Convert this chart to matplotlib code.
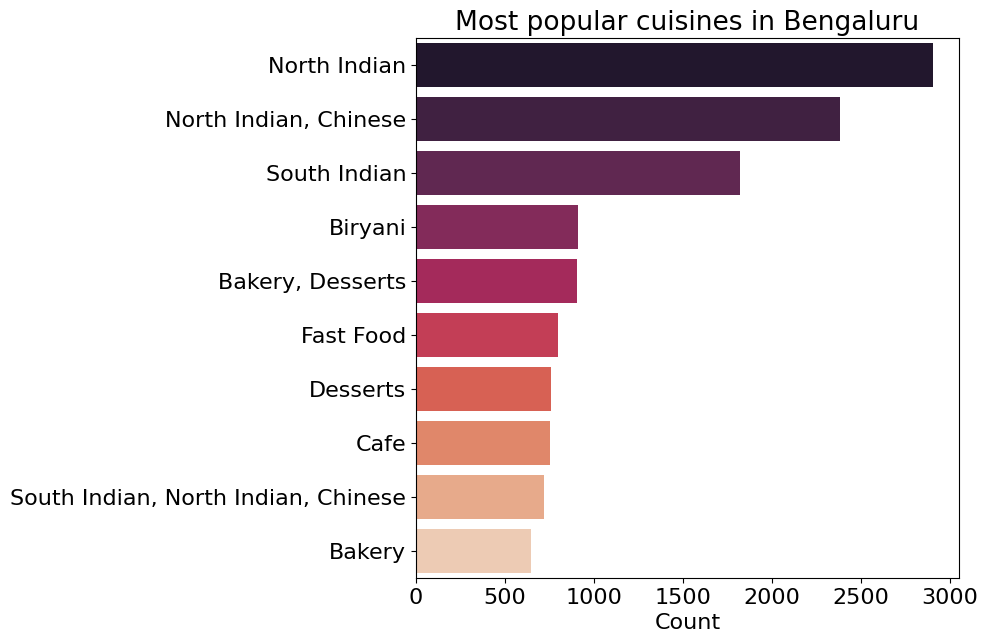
import matplotlib
matplotlib.use("Agg")
import matplotlib.pyplot as plt
import seaborn as sns

cuisines = ["North Indian", "North Indian, Chinese", "South Indian", "Biryani",
            "Bakery, Desserts", "Fast Food", "Desserts", "Cafe",
            "South Indian, North Indian, Chinese", "Bakery"]
counts = [2907, 2381, 1823, 910, 904, 797, 758, 752, 718, 648]

fig = plt.figure(figsize=(9.86, 6.42), dpi=100)
ax = fig.add_axes([416/986, 64/642, 543/986, 540/642])
colors = [sns.desaturate(c, 0.75) for c in sns.color_palette("rocket", len(cuisines))]
ax.barh(cuisines, counts, color=colors, height=0.8)
ax.set_ylim(len(cuisines) - 0.5, -0.5)
ax.set_xlabel("Count", fontsize=16)
ax.set_title("Most popular cuisines in Bengaluru", fontsize=19)
ax.tick_params(labelsize=16)
fig.savefig("out.png", dpi=100)
